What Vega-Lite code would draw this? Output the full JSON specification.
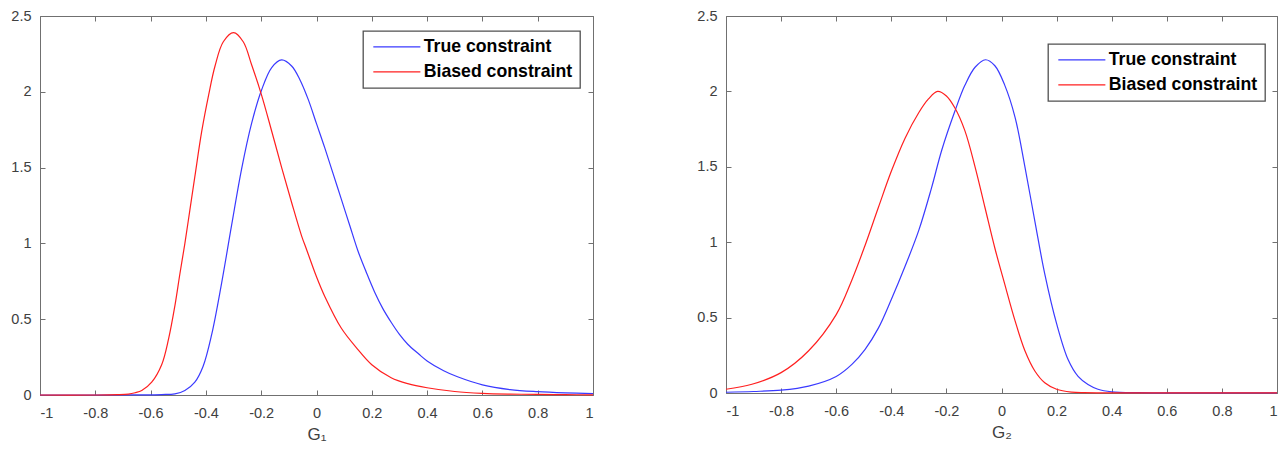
{
  "$schema": "https://vega.github.io/schema/vega-lite/v6.json",
  "padding": {"left": 10, "top": 8, "right": 5, "bottom": 0},
  "background": "white",
  "datasets": {
    "g1": [
      {"g": -1.0, "density": 0.0, "series": "True constraint"},
      {"g": -0.8, "density": 0.0, "series": "True constraint"},
      {"g": -0.65, "density": 0.001, "series": "True constraint"},
      {"g": -0.56, "density": 0.003, "series": "True constraint"},
      {"g": -0.512, "density": 0.008, "series": "True constraint"},
      {"g": -0.476, "density": 0.03, "series": "True constraint"},
      {"g": -0.44, "density": 0.085, "series": "True constraint"},
      {"g": -0.41, "density": 0.19, "series": "True constraint"},
      {"g": -0.379, "density": 0.4, "series": "True constraint"},
      {"g": -0.343, "density": 0.74, "series": "True constraint"},
      {"g": -0.307, "density": 1.12, "series": "True constraint"},
      {"g": -0.271, "density": 1.49, "series": "True constraint"},
      {"g": -0.235, "density": 1.79, "series": "True constraint"},
      {"g": -0.199, "density": 2.01, "series": "True constraint"},
      {"g": -0.162, "density": 2.16, "series": "True constraint"},
      {"g": -0.126, "density": 2.21, "series": "True constraint"},
      {"g": -0.09, "density": 2.17, "series": "True constraint"},
      {"g": -0.06, "density": 2.08, "series": "True constraint"},
      {"g": -0.03, "density": 1.95, "series": "True constraint"},
      {"g": 0.0, "density": 1.79, "series": "True constraint"},
      {"g": 0.03, "density": 1.63, "series": "True constraint"},
      {"g": 0.06, "density": 1.46, "series": "True constraint"},
      {"g": 0.09, "density": 1.29, "series": "True constraint"},
      {"g": 0.12, "density": 1.12, "series": "True constraint"},
      {"g": 0.15, "density": 0.95, "series": "True constraint"},
      {"g": 0.18, "density": 0.81, "series": "True constraint"},
      {"g": 0.21, "density": 0.68, "series": "True constraint"},
      {"g": 0.24, "density": 0.57, "series": "True constraint"},
      {"g": 0.27, "density": 0.48, "series": "True constraint"},
      {"g": 0.3, "density": 0.4, "series": "True constraint"},
      {"g": 0.33, "density": 0.335, "series": "True constraint"},
      {"g": 0.37, "density": 0.27, "series": "True constraint"},
      {"g": 0.4, "density": 0.225, "series": "True constraint"},
      {"g": 0.46, "density": 0.16, "series": "True constraint"},
      {"g": 0.51, "density": 0.12, "series": "True constraint"},
      {"g": 0.6, "density": 0.067, "series": "True constraint"},
      {"g": 0.7, "density": 0.036, "series": "True constraint"},
      {"g": 0.8, "density": 0.022, "series": "True constraint"},
      {"g": 0.9, "density": 0.014, "series": "True constraint"},
      {"g": 1.0, "density": 0.009, "series": "True constraint"},
      {"g": -1.0, "density": 0.0, "series": "Biased constraint"},
      {"g": -0.8, "density": 0.0, "series": "Biased constraint"},
      {"g": -0.72, "density": 0.002, "series": "Biased constraint"},
      {"g": -0.68, "density": 0.006, "series": "Biased constraint"},
      {"g": -0.656, "density": 0.015, "series": "Biased constraint"},
      {"g": -0.632, "density": 0.03, "series": "Biased constraint"},
      {"g": -0.596, "density": 0.085, "series": "Biased constraint"},
      {"g": -0.56, "density": 0.2, "series": "Biased constraint"},
      {"g": -0.535, "density": 0.37, "series": "Biased constraint"},
      {"g": -0.512, "density": 0.59, "series": "Biased constraint"},
      {"g": -0.494, "density": 0.8, "series": "Biased constraint"},
      {"g": -0.476, "density": 1.0, "series": "Biased constraint"},
      {"g": -0.458, "density": 1.22, "series": "Biased constraint"},
      {"g": -0.44, "density": 1.44, "series": "Biased constraint"},
      {"g": -0.415, "density": 1.74, "series": "Biased constraint"},
      {"g": -0.39, "density": 1.98, "series": "Biased constraint"},
      {"g": -0.367, "density": 2.17, "series": "Biased constraint"},
      {"g": -0.337, "density": 2.33, "series": "Biased constraint"},
      {"g": -0.3, "density": 2.39, "series": "Biased constraint"},
      {"g": -0.265, "density": 2.33, "series": "Biased constraint"},
      {"g": -0.235, "density": 2.18, "series": "Biased constraint"},
      {"g": -0.199, "density": 1.98, "series": "Biased constraint"},
      {"g": -0.162, "density": 1.74, "series": "Biased constraint"},
      {"g": -0.126, "density": 1.5, "series": "Biased constraint"},
      {"g": -0.09, "density": 1.27, "series": "Biased constraint"},
      {"g": -0.054, "density": 1.05, "series": "Biased constraint"},
      {"g": -0.036, "density": 0.96, "series": "Biased constraint"},
      {"g": 0.0, "density": 0.78, "series": "Biased constraint"},
      {"g": 0.03, "density": 0.65, "series": "Biased constraint"},
      {"g": 0.09, "density": 0.44, "series": "Biased constraint"},
      {"g": 0.15, "density": 0.3, "series": "Biased constraint"},
      {"g": 0.2, "density": 0.2, "series": "Biased constraint"},
      {"g": 0.27, "density": 0.114, "series": "Biased constraint"},
      {"g": 0.33, "density": 0.075, "series": "Biased constraint"},
      {"g": 0.4, "density": 0.048, "series": "Biased constraint"},
      {"g": 0.5, "density": 0.023, "series": "Biased constraint"},
      {"g": 0.6, "density": 0.011, "series": "Biased constraint"},
      {"g": 0.7, "density": 0.006, "series": "Biased constraint"},
      {"g": 0.8, "density": 0.004, "series": "Biased constraint"},
      {"g": 0.9, "density": 0.002, "series": "Biased constraint"},
      {"g": 1.0, "density": 0.001, "series": "Biased constraint"}
    ],
    "g2": [
      {"g": -1.0, "density": 0.005, "series": "True constraint"},
      {"g": -0.9, "density": 0.01, "series": "True constraint"},
      {"g": -0.8, "density": 0.019, "series": "True constraint"},
      {"g": -0.7, "density": 0.046, "series": "True constraint"},
      {"g": -0.6, "density": 0.11, "series": "True constraint"},
      {"g": -0.543, "density": 0.19, "series": "True constraint"},
      {"g": -0.495, "density": 0.29, "series": "True constraint"},
      {"g": -0.447, "density": 0.43, "series": "True constraint"},
      {"g": -0.4, "density": 0.62, "series": "True constraint"},
      {"g": -0.35, "density": 0.84, "series": "True constraint"},
      {"g": -0.3, "density": 1.08, "series": "True constraint"},
      {"g": -0.254, "density": 1.36, "series": "True constraint"},
      {"g": -0.217, "density": 1.61, "series": "True constraint"},
      {"g": -0.169, "density": 1.87, "series": "True constraint"},
      {"g": -0.133, "density": 2.04, "series": "True constraint"},
      {"g": -0.096, "density": 2.16, "series": "True constraint"},
      {"g": -0.058, "density": 2.21, "series": "True constraint"},
      {"g": -0.024, "density": 2.17, "series": "True constraint"},
      {"g": 0.012, "density": 2.04, "series": "True constraint"},
      {"g": 0.049, "density": 1.83, "series": "True constraint"},
      {"g": 0.085, "density": 1.5, "series": "True constraint"},
      {"g": 0.121, "density": 1.14, "series": "True constraint"},
      {"g": 0.157, "density": 0.79, "series": "True constraint"},
      {"g": 0.2, "density": 0.46, "series": "True constraint"},
      {"g": 0.242, "density": 0.22, "series": "True constraint"},
      {"g": 0.278, "density": 0.11, "series": "True constraint"},
      {"g": 0.314, "density": 0.056, "series": "True constraint"},
      {"g": 0.35, "density": 0.025, "series": "True constraint"},
      {"g": 0.4, "density": 0.008, "series": "True constraint"},
      {"g": 0.5, "density": 0.002, "series": "True constraint"},
      {"g": 0.6, "density": 0.001, "series": "True constraint"},
      {"g": 0.8, "density": 0.001, "series": "True constraint"},
      {"g": 1.0, "density": 0.001, "series": "True constraint"},
      {"g": -1.0, "density": 0.025, "series": "Biased constraint"},
      {"g": -0.906, "density": 0.058, "series": "Biased constraint"},
      {"g": -0.8, "density": 0.135, "series": "Biased constraint"},
      {"g": -0.7, "density": 0.28, "series": "Biased constraint"},
      {"g": -0.6, "density": 0.52, "series": "Biased constraint"},
      {"g": -0.543, "density": 0.75, "series": "Biased constraint"},
      {"g": -0.495, "density": 0.98, "series": "Biased constraint"},
      {"g": -0.447, "density": 1.23, "series": "Biased constraint"},
      {"g": -0.4, "density": 1.47, "series": "Biased constraint"},
      {"g": -0.35, "density": 1.69, "series": "Biased constraint"},
      {"g": -0.3, "density": 1.86, "series": "Biased constraint"},
      {"g": -0.265, "density": 1.95, "series": "Biased constraint"},
      {"g": -0.232, "density": 2.0, "series": "Biased constraint"},
      {"g": -0.2, "density": 1.97, "series": "Biased constraint"},
      {"g": -0.169, "density": 1.89, "series": "Biased constraint"},
      {"g": -0.133, "density": 1.74, "series": "Biased constraint"},
      {"g": -0.096, "density": 1.5, "series": "Biased constraint"},
      {"g": -0.06, "density": 1.23, "series": "Biased constraint"},
      {"g": -0.024, "density": 0.96, "series": "Biased constraint"},
      {"g": 0.012, "density": 0.72, "series": "Biased constraint"},
      {"g": 0.049, "density": 0.48, "series": "Biased constraint"},
      {"g": 0.085, "density": 0.28, "series": "Biased constraint"},
      {"g": 0.121, "density": 0.146, "series": "Biased constraint"},
      {"g": 0.157, "density": 0.068, "series": "Biased constraint"},
      {"g": 0.2, "density": 0.025, "series": "Biased constraint"},
      {"g": 0.254, "density": 0.006, "series": "Biased constraint"},
      {"g": 0.3, "density": 0.002, "series": "Biased constraint"},
      {"g": 0.4, "density": 0.001, "series": "Biased constraint"},
      {"g": 0.7, "density": 0.001, "series": "Biased constraint"},
      {"g": 1.0, "density": 0.001, "series": "Biased constraint"}
    ]
  },
  "spacing": 100,
  "resolve": {"scale": {"color": "independent"}, "legend": {"color": "independent"}},
  "hconcat": [
    {
      "width": 553,
      "height": 379,
      "data": {"name": "g1"},
      "resolve": {"axis": {"x": "independent", "y": "independent"}},
      "layer": [
        {
          "mark": {"type": "line", "interpolate": "catmull-rom", "strokeWidth": 1.2},
          "encoding": {
            "x": {"field": "g", "type": "quantitative", "scale": {"domain": [-1, 1], "nice": false},
                  "axis": {"orient": "bottom", "title": "G₁", "values": [-1, -0.8, -0.6, -0.4, -0.2, 0, 0.2, 0.4, 0.6, 0.8, 1], "labelExpr": "'' + datum.value"}},
            "y": {"field": "density", "type": "quantitative", "scale": {"domain": [0, 2.5], "nice": false},
                  "axis": {"orient": "left", "title": null, "values": [0, 0.5, 1, 1.5, 2, 2.5], "labelExpr": "'' + datum.value"}},
            "color": {"field": "series", "type": "nominal",
                      "scale": {"domain": ["True constraint", "Biased constraint"], "range": ["#3a3aff", "#ff1f1f"]},
                      "legend": {"orient": "none", "legendX": 323, "legendY": 15}},
            "order": {"field": "g", "type": "quantitative"}
          }
        },
        {
          "mark": {"type": "point", "opacity": 0},
          "encoding": {
            "x": {"field": "g", "type": "quantitative", "scale": {"domain": [-1, 1], "nice": false},
                  "axis": {"orient": "top", "title": null, "labels": false, "values": [-1, -0.8, -0.6, -0.4, -0.2, 0, 0.2, 0.4, 0.6, 0.8, 1]}},
            "y": {"field": "density", "type": "quantitative", "scale": {"domain": [0, 2.5], "nice": false},
                  "axis": {"orient": "right", "title": null, "labels": false, "values": [0, 0.5, 1, 1.5, 2, 2.5]}}
          }
        }
      ]
    },
    {
      "width": 551,
      "height": 377,
      "data": {"name": "g2"},
      "resolve": {"axis": {"x": "independent", "y": "independent"}},
      "layer": [
        {
          "mark": {"type": "line", "interpolate": "catmull-rom", "strokeWidth": 1.2},
          "encoding": {
            "x": {"field": "g", "type": "quantitative", "scale": {"domain": [-1, 1], "nice": false},
                  "axis": {"orient": "bottom", "title": "G₂", "values": [-1, -0.8, -0.6, -0.4, -0.2, 0, 0.2, 0.4, 0.6, 0.8, 1], "labelExpr": "'' + datum.value"}},
            "y": {"field": "density", "type": "quantitative", "scale": {"domain": [0, 2.5], "nice": false},
                  "axis": {"orient": "left", "title": null, "values": [0, 0.5, 1, 1.5, 2, 2.5], "labelExpr": "'' + datum.value"}},
            "color": {"field": "series", "type": "nominal",
                      "scale": {"domain": ["True constraint", "Biased constraint"], "range": ["#3a3aff", "#ff1f1f"]},
                      "legend": {"orient": "none", "legendX": 322, "legendY": 28}},
            "order": {"field": "g", "type": "quantitative"}
          }
        },
        {
          "mark": {"type": "point", "opacity": 0},
          "encoding": {
            "x": {"field": "g", "type": "quantitative", "scale": {"domain": [-1, 1], "nice": false},
                  "axis": {"orient": "top", "title": null, "labels": false, "values": [-1, -0.8, -0.6, -0.4, -0.2, 0, 0.2, 0.4, 0.6, 0.8, 1]}},
            "y": {"field": "density", "type": "quantitative", "scale": {"domain": [0, 2.5], "nice": false},
                  "axis": {"orient": "right", "title": null, "labels": false, "values": [0, 0.5, 1, 1.5, 2, 2.5]}}
          }
        }
      ]
    }
  ],
  "config": {
    "font": "Liberation Sans",
    "view": {"stroke": null},
    "axis": {
      "grid": false,
      "domainColor": "#707070",
      "domainWidth": 1,
      "tickColor": "#707070",
      "tickWidth": 1,
      "tickSize": -5,
      "labelFont": "Liberation Sans",
      "labelFontSize": 14.5,
      "labelColor": "#404040",
      "titleFont": "Liberation Sans",
      "titleFontSize": 17,
      "titleFontWeight": "normal",
      "titleColor": "#404040"
    },
    "axisBottom": {"labelPadding": 16, "titlePadding": 7},
    "axisLeft": {"labelPadding": 14},
    "legend": {
      "title": null,
      "symbolType": "M-3,0H3",
      "symbolSize": 246,
      "symbolStrokeWidth": 1.2,
      "symbolOffset": 18,
      "labelOffset": 18,
      "labelFont": "Liberation Sans",
      "labelFontSize": 17.7,
      "labelFontWeight": "bold",
      "labelColor": "black",
      "rowPadding": 6,
      "padding": 7,
      "strokeColor": "#505050",
      "strokeWidth": 1.3,
      "fillColor": "white"
    }
  }
}
